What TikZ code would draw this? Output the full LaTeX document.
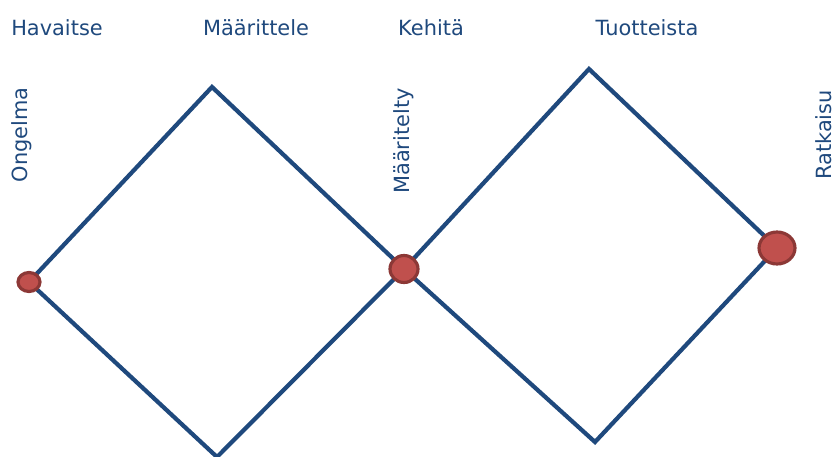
\documentclass[tikz,border=0pt]{standalone}
\usepackage{fontspec}
\setmainfont{DejaVu Sans}
\usetikzlibrary{shapes.geometric}
\definecolor{lineblue}{HTML}{1F497D}
\definecolor{dotred}{HTML}{C0504D}
\definecolor{dotedge}{HTML}{8C3836}

\begin{document}
\begin{tikzpicture}[x=0.02cm, y=-0.02cm,
    lbl/.style={font=\fontsize{11.9pt}{14pt}\selectfont, text=lineblue,
                anchor=base, inner sep=0pt},
    vlbl/.style={lbl, rotate=90},
    edge/.style={draw=lineblue, line width=2.4pt, line join=miter},
    dot/.style={ellipse, draw=dotedge, fill=dotred, line width=1.8pt, inner sep=0pt}
  ]
    \useasboundingbox (0,0) rectangle (834,456);

    % Phase headings
    \node[lbl] (havaitse)   at (57,36)  {Havaitse};
    \node[lbl] (maarittele) at (256,36) {Määrittele};
    \node[lbl] (kehita)     at (431,36) {Kehitä};
    \node[lbl] (tuotteista) at (647,36) {Tuotteista};

    % Stage labels
    \node[vlbl] (ongelma)    at (28,135)  {Ongelma};
    \node[vlbl] (maaritelty) at (409,141) {Määritelty};
    \node[vlbl] (ratkaisu)   at (831,135) {Ratkaisu};

    % Corners of both diamonds
    \coordinate (a) at (29,282);
    \coordinate (atop) at (212,87);
    \coordinate (abot) at (217,457);
    \coordinate (b) at (404,269);
    \coordinate (btop) at (589,69);
    \coordinate (bbot) at (595,442);
    \coordinate (c) at (777,248);

    % Diamonds
    \draw[edge] (a) -- (atop) -- (b) -- (abot) -- cycle;
    \draw[edge] (b) -- (btop) -- (c) -- (bbot) -- cycle;

    % Points on top
    \node[dot, minimum width=0.44cm, minimum height=0.38cm] (start) at (a) {};
    \node[dot, minimum width=0.56cm, minimum height=0.54cm] (mid)   at (b) {};
    \node[dot, minimum width=0.72cm, minimum height=0.64cm] (end)   at (c) {};
\end{tikzpicture}
\end{document}
